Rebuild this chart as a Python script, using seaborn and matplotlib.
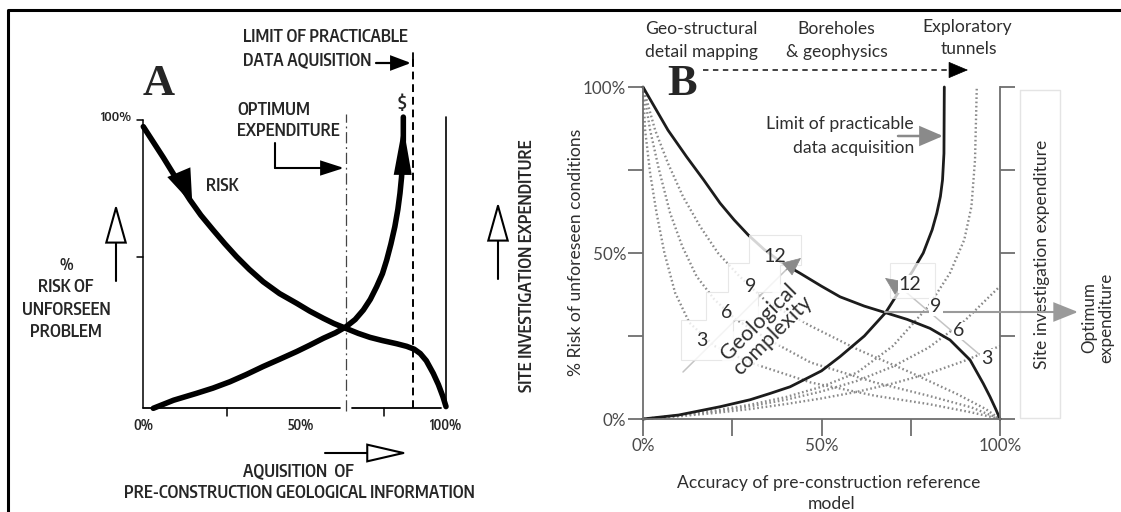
import matplotlib
matplotlib.use("Agg")
import matplotlib.pyplot as plt
import seaborn as sns
from matplotlib import font_manager
from matplotlib.font_manager import FontProperties
from matplotlib.patches import FancyArrowPatch, Polygon
from matplotlib.lines import Line2D

W, H = 1121, 512

# ---------------- Panel A data ----------------
a_risk_x = [0.0, 0.066, 0.11, 0.154, 0.19, 0.231, 0.27, 0.308, 0.35, 0.396, 0.45, 0.507, 0.55,
            0.595, 0.63, 0.670, 0.71, 0.749, 0.79, 0.837, 0.87, 0.895, 0.915, 0.935, 0.958,
            0.975, 0.99, 1.0]
a_risk_y = [0.977, 0.87, 0.795, 0.723, 0.67, 0.618, 0.57, 0.526, 0.482, 0.439, 0.398, 0.364,
            0.337, 0.312, 0.294, 0.277, 0.26, 0.246, 0.235, 0.224, 0.215, 0.205, 0.19, 0.165,
            0.121, 0.082, 0.04, 0.006]
a_exp_x = [0.033, 0.1, 0.176, 0.23, 0.286, 0.34, 0.396, 0.45, 0.507, 0.55, 0.595, 0.635, 0.670,
           0.70, 0.727, 0.75, 0.771, 0.79, 0.804, 0.818, 0.831, 0.841, 0.848, 0.853, 0.857,
           0.859, 0.859]
a_exp_y = [0.0, 0.028, 0.052, 0.07, 0.092, 0.117, 0.145, 0.17, 0.197, 0.219, 0.243, 0.262,
           0.283, 0.308, 0.341, 0.378, 0.422, 0.467, 0.514, 0.57, 0.63, 0.69, 0.746, 0.80,
           0.861, 0.93, 1.01]
a_optimum_x = 0.669
a_limit_x = 0.89
a_xlabel_pos = [0.0, 0.52, 1.0]
a_xlabel_text = ["0%", "50%", "100%"]
a_xtick_marks = [0.275, 0.795]
a_ytick_marks = [0.525, 1.0]

# ---------------- Panel B data ----------------
b_risk_x = [0.0, 0.07, 0.122, 0.17, 0.216, 0.255, 0.295, 0.34, 0.39, 0.44, 0.50, 0.552, 0.62, 0.68,
            0.74, 0.804, 0.86, 0.916, 0.953, 0.972, 0.988, 1.0]
b_risk_y = [1.0, 0.87, 0.79, 0.72, 0.65, 0.60, 0.554, 0.51, 0.47, 0.439, 0.40, 0.368, 0.34, 0.32,
            0.30, 0.273, 0.238, 0.178, 0.107, 0.067, 0.03, 0.0]
b_exp_x = [0.0, 0.1, 0.216, 0.3, 0.356, 0.412, 0.46, 0.50, 0.552, 0.62, 0.68, 0.72, 0.755, 0.785,
           0.81, 0.823, 0.833, 0.839, 0.843, 0.844]
b_exp_y = [0.0, 0.012, 0.037, 0.058, 0.077, 0.097, 0.123, 0.145, 0.188, 0.25, 0.321, 0.389, 0.445,
           0.50, 0.57, 0.62, 0.67, 0.72, 0.80, 1.0]

# dotted risk curves for geological complexity 3, 6, 9
b_risk3_x = [0, 0.006, 0.02, 0.038, 0.06, 0.09, 0.13, 0.2, 0.3, 0.47, 0.65, 0.8, 0.92, 1]
b_risk3_y = [1, 0.87, 0.74, 0.62, 0.5, 0.38, 0.29, 0.22, 0.17, 0.11, 0.07, 0.045, 0.02, 0]
b_risk6_x = [0, 0.02, 0.045, 0.076, 0.11, 0.15, 0.2, 0.26, 0.35, 0.47, 0.65, 0.8, 0.92, 1]
b_risk6_y = [1, 0.87, 0.75, 0.62, 0.52, 0.43, 0.36, 0.3, 0.24, 0.17, 0.11, 0.07, 0.035, 0]
b_risk9_x = [0, 0.034, 0.07, 0.112, 0.16, 0.21, 0.27, 0.35, 0.47, 0.6, 0.75, 0.88, 0.96, 1]
b_risk9_y = [1, 0.87, 0.77, 0.67, 0.58, 0.5, 0.43, 0.35, 0.28, 0.21, 0.14, 0.075, 0.03, 0]
# dotted expenditure curves for geological complexity 3, 6, 9
b_exp3_x = [0, 0.1, 0.2, 0.3, 0.4, 0.5, 0.6, 0.7, 0.8, 0.9, 1]
b_exp3_y = [0, 0.008, 0.018, 0.03, 0.045, 0.062, 0.082, 0.107, 0.137, 0.175, 0.22]
b_exp6_x = [0, 0.1, 0.2, 0.3, 0.4, 0.5, 0.6, 0.7, 0.8, 0.9, 1]
b_exp6_y = [0, 0.01, 0.022, 0.038, 0.058, 0.083, 0.115, 0.158, 0.215, 0.295, 0.40]
b_exp9_x = [0, 0.1, 0.2, 0.3, 0.4, 0.5, 0.6, 0.7, 0.8, 0.86, 0.9, 0.92, 0.93, 0.935]
b_exp9_y = [0, 0.011, 0.025, 0.043, 0.066, 0.097, 0.14, 0.22, 0.34, 0.44, 0.54, 0.64, 0.78, 1.0]

b_ticks = [0, 0.25, 0.5, 0.75, 1.0]
b_ticklabels = ["0%", "", "50%", "", "100%"]
b_complexity = ["3", "6", "9", "12"]

# ---------------- style ----------------
sns.set_theme(style="white")
names = {f.name for f in font_manager.fontManager.ttflist}
SANS = "Lato" if "Lato" in names else "DejaVu Sans"
SERIF = "Liberation Serif" if "Liberation Serif" in names else "DejaVu Serif"
plt.rcParams["font.family"] = [SANS, "DejaVu Sans"]

# condensed font for the old hand-lettered panel A
cond_path = None
best = None
for f in font_manager.fontManager.ttflist:
    nm = f.name.lower()
    st = str(f.stretch).lower()
    if ("narrow" in nm or "condensed" in nm or "condensed" in st) and f.style == "normal":
        w = f.weight if isinstance(f.weight, int) else 400
        score = abs(w - 600) + (0 if "sans" in nm else 50) + (0 if "semi" not in st else 20)
        if best is None or score < best:
            best = score
            cond_path = f.fname
if cond_path:
    fpA_base = FontProperties(fname=cond_path)
else:
    fpA_base = FontProperties(family=["Roboto", "DejaVu Sans"])
fpB_base = FontProperties(family=[SANS, "DejaVu Sans"])

fig = plt.figure(figsize=(W / 100, H / 100), dpi=100)
fig.patch.set_facecolor("white")
renderer = fig.canvas.get_renderer()


def measure(s, fp, size):
    p = fp.copy()
    p.set_size(size)
    t = fig.text(0, 0, s, fontproperties=p)
    w = t.get_window_extent(renderer).width
    t.remove()
    return w


fsA = 12 * 352 / measure("PRE-CONSTRUCTION GEOLOGICAL INFORMATION", fpA_base, 12)
fsB = 12 * 303 / measure("Accuracy of pre-construction reference", fpB_base, 12)


def fpa(scale=1.0, **kw):
    p = fpA_base.copy()
    p.set_size(fsA * scale)
    if "style" in kw:
        p.set_style(kw["style"])
    if "weight" in kw:
        p.set_weight(kw["weight"])
    return p


def fx(px):
    return px / W


def fy(py):
    return 1 - py / H


def ptext(px, py, s, **kw):
    kw.setdefault("ha", "center")
    kw.setdefault("va", "center")
    return fig.text(fx(px), fy(py), s, **kw)


def farrow(p0, p1, color="black", lw=1.2, hl=1.0, hw=0.5, z=5, fc=None, ms=10):
    a = FancyArrowPatch(posA=(fx(p0[0]), fy(p0[1])), posB=(fx(p1[0]), fy(p1[1])),
                        transform=fig.transFigure,
                        arrowstyle=f"-|>,head_length={hl},head_width={hw}",
                        mutation_scale=ms, ec=color, fc=fc if fc else color, lw=lw,
                        zorder=z, shrinkA=0, shrinkB=0, joinstyle="miter")
    fig.add_artist(a)


def fline(pts, color="black", lw=1.2, ls="-", z=5):
    xs = [fx(p[0]) for p in pts]
    ys = [fy(p[1]) for p in pts]
    fig.add_artist(Line2D(xs, ys, transform=fig.transFigure, color=color, lw=lw, ls=ls, zorder=z))


# outer frame (left + top edges)
fline([(7.5, 512), (7.5, 10), (1121, 10)], lw=2.2)

# ======================= PANEL A =======================
A0x, A1x, A0y, A1y = 143.3, 446.0, 408.3, 120.0
axA = fig.add_axes([fx(A0x), fy(A0y), (A1x - A0x) / W, (A0y - A1y) / H])
axA.set_xlim(0, 1)
axA.set_ylim(0, 1)
axA.set_axis_off()

axA.plot([0, 0], [0, 1.0], color="black", lw=1.1, clip_on=False)
for yt in a_ytick_marks:
    axA.plot([-0.02, 0], [yt, yt], color="black", lw=1.1, clip_on=False)
axA.plot([0, 0.65], [0, 0], color="black", lw=1.3, clip_on=False)
axA.plot([0.69, 0.982], [0, 0], color="black", lw=1.3, clip_on=False)
for xt in a_xtick_marks:
    axA.plot([xt, xt], [0, -0.025], color="black", lw=1.1, clip_on=False)
axA.plot([1.0, 1.0], [0, 1.01], color="black", lw=1.2, clip_on=False)
axA.plot([a_optimum_x, a_optimum_x], [-0.01, 1.02], color="#444444", lw=0.9,
         ls=(0, (9, 3, 1.5, 3)), clip_on=False)
axA.plot([a_limit_x, a_limit_x], [0, 1.23], color="black", lw=1.4, ls=(0, (4, 2.5)), clip_on=False)

sns.lineplot(x=a_risk_x, y=a_risk_y, ax=axA, color="black", lw=4.0, estimator=None, sort=False,
             clip_on=False, solid_capstyle="round", solid_joinstyle="round")
sns.lineplot(x=a_exp_x, y=a_exp_y, ax=axA, color="black", lw=4.0, estimator=None, sort=False,
             clip_on=False, solid_capstyle="round", solid_joinstyle="round")

# arrowheads on curves
axA.annotate("", xy=(0.162, 0.708), xytext=(0.119, 0.815),
             arrowprops=dict(arrowstyle="-|>,head_length=2.5,head_width=0.9", mutation_scale=10,
                             color="black", lw=0, shrinkA=0, shrinkB=0))
axA.annotate("", xy=(0.858, 0.983), xytext=(0.857, 0.80),
             arrowprops=dict(arrowstyle="-|>,head_length=3.6,head_width=0.65", mutation_scale=10,
                             color="black", lw=0, shrinkA=0, shrinkB=0))

for xv, lab in zip(a_xlabel_pos, a_xlabel_text):
    axA.text(xv, -0.062, lab, ha="center", va="center", fontproperties=fpa(0.8), clip_on=False)
axA.text(-0.09, 1.01, "100%", ha="center", va="center", fontproperties=fpa(0.78), clip_on=False)

ptext(159, 84, "A", fontsize=32, family=SERIF, fontweight="bold")
ptext(243, 37, "LIMIT OF PRACTICABLE", ha="left", fontproperties=fpa())
ptext(243, 60, "DATA AQUISITION", ha="left", fontproperties=fpa())
farrow((376, 63), (411, 63), lw=1.6, hl=1.2, hw=0.45)
fline([(412.5, 53), (412.5, 66)], lw=1.3)
ptext(237, 110, "OPTIMUM", ha="left", fontproperties=fpa())
ptext(237, 131, "EXPENDITURE", ha="left", fontproperties=fpa(style="italic"))
fline([(275, 143), (275, 168)], lw=1.5)
farrow((275, 168), (344, 168), lw=1.5, hl=1.4, hw=0.45)
ptext(206, 186, "RISK", ha="left", fontproperties=fpa())
ptext(402, 104, "$", fontproperties=fpa(1.05, weight="bold"))
ptext(66, 265, "%", fontproperties=fpa(0.9))
ptext(66, 287, "RISK OF", fontproperties=fpa())
ptext(66, 310, "UNFORSEEN", fontproperties=fpa())
ptext(66, 332, "PROBLEM", fontproperties=fpa())
farrow((116, 281), (116, 204), lw=1.5, hl=2.5, hw=0.7, fc="white")
farrow((498, 279), (498, 202), lw=1.5, hl=2.5, hw=0.7, fc="white")
farrow((325, 453), (408, 453), lw=1.5, hl=2.6, hw=0.6, fc="white")
ptext(527, 266, "SITE INVESTIGATION EXPENDITURE", rotation=90, fontproperties=fpa())
ptext(298, 471, "AQUISITION  OF", fontproperties=fpa())
ptext(299, 493, "PRE-CONSTRUCTION GEOLOGICAL INFORMATION", fontproperties=fpa())

# ======================= PANEL B =======================
B0x, B1x, B0y, B1y = 643, 1000, 419, 87
axB = fig.add_axes([fx(B0x), fy(B0y), (B1x - B0x) / W, (B0y - B1y) / H])
axB.set_xlim(0, 1)
axB.set_ylim(0, 1)
axB.set_facecolor("none")
axB.spines["top"].set_visible(False)
for side in ["left", "right", "bottom"]:
    axB.spines[side].set_color("#6e6e6e")
    axB.spines[side].set_linewidth(1.3)
axB.set_xticks(b_ticks)
axB.set_xticklabels(b_ticklabels)
axB.set_yticks(b_ticks)
axB.set_yticklabels(b_ticklabels)
axB.tick_params(axis="y", which="both", left=True, right=True, direction="out", length=11,
                width=1.3, color="#6e6e6e", labelsize=fsB * 0.97, labelcolor="#4a4a4a", pad=1.0)
axB.tick_params(axis="x", which="both", bottom=True, direction="out", length=12.5,
                width=1.3, color="#6e6e6e", labelsize=fsB * 0.97, labelcolor="#4a4a4a", pad=1.5)
axB.grid(False)

dot_kw = dict(color="#8a8a8a", lw=1.7, linestyle=(0, (0.7, 1.1)), estimator=None, sort=False,
              clip_on=False)
for xs, ys in [(b_risk3_x, b_risk3_y), (b_risk6_x, b_risk6_y), (b_risk9_x, b_risk9_y),
               (b_exp3_x, b_exp3_y), (b_exp6_x, b_exp6_y), (b_exp9_x, b_exp9_y)]:
    sns.lineplot(x=xs, y=ys, ax=axB, **dot_kw)

sns.lineplot(x=b_risk_x, y=b_risk_y, ax=axB, color="#1c1c1c", lw=2.0, estimator=None, sort=False,
             clip_on=False)
sns.lineplot(x=b_exp_x, y=b_exp_y, ax=axB, color="#1c1c1c", lw=2.0, estimator=None, sort=False,
             clip_on=False)

# complexity direction lines (under label boxes)
fline([(683, 372), (792, 264)], color="#c4c4c4", lw=1.1, z=1.2)
fline([(993, 366), (900, 287)], color="#c4c4c4", lw=1.1, z=1.2)

# faded label boxes
left_box = [(749, 235), (801, 235), (801, 265), (780, 265), (780, 292), (758, 292), (758, 320),
            (733, 320), (733, 360), (681, 360), (681, 320), (706, 320), (706, 292), (728, 292),
            (728, 263), (749, 263)]
fig.add_artist(Polygon([(fx(x), fy(y)) for x, y in left_box], closed=True,
                       transform=fig.transFigure, fc="white", ec="#e2e2e2", lw=0.8, alpha=0.82,
                       zorder=1.5))
right_box = [(890, 263), (935, 263), (935, 298), (890, 298)]
fig.add_artist(Polygon([(fx(x), fy(y)) for x, y in right_box], closed=True,
                       transform=fig.transFigure, fc="white", ec="#e2e2e2", lw=0.8, alpha=0.75,
                       zorder=1.5))
fline([(1020, 90), (1060, 90), (1060, 418), (1020, 418), (1020, 90)], color="#e4e4e4", lw=1, z=1.2)

# arrowheads of complexity arrows
farrow((786, 270), (801, 258), color="#8a8a8a", lw=0.5, hl=1.2, hw=0.55, z=4)
farrow((898, 287), (885, 278), color="#8a8a8a", lw=0.5, hl=1.2, hw=0.55, z=4)

TXT = "#2e2e2e"
lab_kw = dict(fontsize=fsB * 1.12, color=TXT, zorder=5)
bb = dict(boxstyle="square,pad=0.05", fc="white", ec="none")
for (px, py), s in zip([(702, 341), (727, 313), (751, 287), (775, 256)], b_complexity):
    ptext(px, py, s, **lab_kw)
for (px, py), s in zip([(987, 358), (959, 331), (936, 307), (910, 284)], b_complexity):
    ptext(px, py, s, bbox=bb, **lab_kw)

ptext(766, 329, "Geological\ncomplexity", rotation=45, fontsize=fsB * 1.22, color=TXT,
      linespacing=0.95, rotation_mode="anchor",
      bbox=dict(boxstyle="square,pad=0.08", fc="white", ec="none", alpha=0.8), zorder=3)

# optimum expenditure arrow
farrow((885, 312), (1078, 312), color="#9a9a9a", lw=1.5, hl=1.5, hw=0.6, z=4)
ptext(1098, 318, "Optimum\nexpenditure", rotation=90, fontsize=fsB * 0.97, color=TXT,
      linespacing=1.05)
ptext(1042, 254, "Site investigation expenditure", rotation=90, fontsize=fsB, color=TXT)

# limit of practicable data acquisition
ptext(914, 124, "Limit of practicable", ha="right", fontsize=fsB, color=TXT)
ptext(914, 148, "data acquisition", ha="right", fontsize=fsB, color=TXT)
farrow((898, 136), (943, 136), color="#8a8a8a", lw=1.8, hl=1.4, hw=0.6, z=4)

# methods along the top
ptext(701, 29, "Geo-structural", fontsize=fsB, color=TXT)
ptext(701, 52, "detail mapping", fontsize=fsB, color=TXT)
ptext(836, 29, "Boreholes", fontsize=fsB, color=TXT)
ptext(837, 52, "& geophysics", fontsize=fsB, color=TXT)
ptext(967, 27, "Exploratory", fontsize=fsB, color=TXT)
ptext(969, 49, "tunnels", fontsize=fsB, color=TXT)
fline([(703, 70), (958, 70)], color="#333333", lw=1.3, ls=(0, (3, 2.5)))
farrow((955, 70), (968, 70), color="black", lw=0.5, hl=1.3, hw=0.55)

ptext(682, 84, "B", fontsize=32, family=SERIF, fontweight="bold")
ptext(576, 252, "% Risk of unforeseen conditions", rotation=90, fontsize=fsB, color=TXT)
ptext(829, 483, "Accuracy of pre-construction reference", fontsize=fsB, color=TXT)
ptext(832, 504, "model", fontsize=fsB, color=TXT)

fig.savefig("out.png", dpi=100, facecolor="white")
